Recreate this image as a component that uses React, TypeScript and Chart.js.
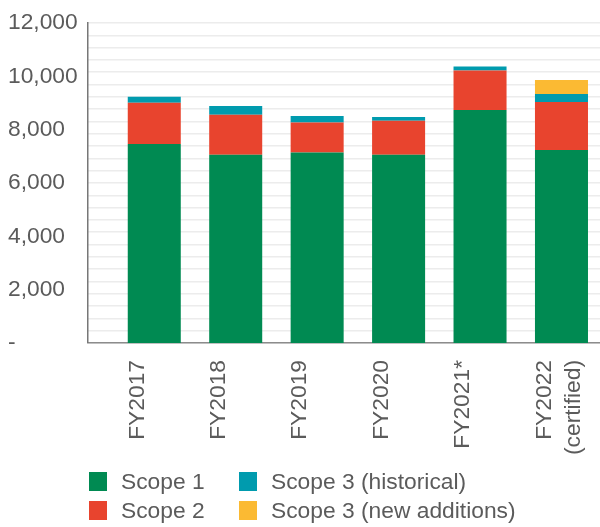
import React, { useEffect, useRef } from 'react';
import { Chart, registerables } from 'chart.js';

Chart.register(...registerables);

const categories: (string | string[])[] = [
  'FY2017',
  'FY2018',
  'FY2019',
  'FY2020',
  'FY2021*',
  ['FY2022', '(certified)'],
];
const scope1 = [7460, 7060, 7140, 7060, 8740, 7240];
const scope2 = [1550, 1500, 1125, 1275, 1475, 1800];
const scope3Historical = [225, 325, 250, 140, 150, 300];
const scope3New = [0, 0, 0, 0, 0, 525];
const yMax = 12000;
const yStep = 2000;

const seriesNames = ['Scope 1', 'Scope 2', 'Scope 3 (historical)', 'Scope 3 (new additions)'];
const seriesColors = ['#008a52', '#e8442e', '#009bae', '#fbba33'];

const FONT = '"Liberation Sans", Arial, Helvetica, sans-serif';
const TEXT = '#5b5b5b';
const FS = 22.8;

export default function App() {
  const ref = useRef<HTMLCanvasElement | null>(null);

  useEffect(() => {
    document.body.style.margin = '0';
    const canvas = ref.current;
    if (!canvas) return;
    const toPoints = (arr: number[]) => arr.map((y, i) => ({ x: i, y }));
    const allSeries = [scope1, scope2, scope3Historical, scope3New];
    const chart = new Chart(canvas, {
      type: 'bar',
      data: {
        datasets: allSeries.map((s, k) => ({
          label: seriesNames[k],
          data: toPoints(s),
          backgroundColor: seriesColors[k],
          borderWidth: 0,
          barPercentage: 0.651,
          categoryPercentage: 1,
        })),
      },
      options: {
        responsive: false,
        animation: false,
        layout: { padding: { left: 8, top: 23, right: 0, bottom: 4 } },
        plugins: { legend: { display: false }, tooltip: { enabled: false } },
        scales: {
          x: {
            type: 'linear',
            offset: false,
            min: -0.817,
            max: 5.473,
            stacked: true,
            grid: { display: false, drawTicks: false, offset: false },
            border: { display: true, color: '#8c8c8c', width: 1.5 },
            afterBuildTicks: (s: any) => {
              s.ticks = categories.map((_, i) => ({ value: i }));
            },
            afterFit: (s: any) => {
              s.paddingLeft = 0;
              s.paddingRight = 0;
            },
            ticks: {
              stepSize: 1,
              includeBounds: false,
              autoSkip: false,
              minRotation: 90,
              maxRotation: 90,
              padding: 17,
              labelOffset: -17,
              color: TEXT,
              font: { family: FONT, size: FS, lineHeight: 1.28 },
              callback: (v: any) => {
                const i = Number(v);
                return Number.isInteger(i) && i >= 0 && i < categories.length ? categories[i] : '';
              },
            },
          },
          y: {
            stacked: true,
            min: 0,
            max: yMax,
            grid: { display: false, drawTicks: false },
            border: { display: true, color: '#777777', width: 1.5 },
            ticks: {
              stepSize: yStep,
              crossAlign: 'far',
              padding: 5,
              color: TEXT,
              font: { family: FONT, size: FS },
              callback: (v: any) => (Number(v) === 0 ? '-' : Number(v).toLocaleString('en-US')),
            },
          },
          yGrid: {
            position: 'right',
            min: 0,
            max: 26,
            grid: { color: '#ececec', lineWidth: 1.5, drawTicks: false },
            border: { display: false },
            ticks: { display: false, stepSize: 1 },
          },
        },
      } as any,
    });
    return () => chart.destroy();
  }, []);

  const legendItem = (k: number) => (
    <div key={k} style={{ display: 'flex', alignItems: 'center', height: 29 }}>
      <span
        style={{
          display: 'inline-block',
          width: 18,
          height: 19,
          background: seriesColors[k],
          marginRight: 14,
        }}
      />
      <span style={{ fontFamily: FONT, fontSize: FS, color: TEXT, lineHeight: '29px' }}>{seriesNames[k]}</span>
    </div>
  );

  return (
    <div style={{ position: 'relative', width: 600, height: 527 }}>
      <canvas ref={ref} width={600} height={476} style={{ display: 'block', position: 'absolute', left: 0, top: 0 }} />
      <div
        style={{
          position: 'absolute',
          left: 89,
          top: 467,
          display: 'grid',
          gridTemplateColumns: '150px auto',
          gridAutoFlow: 'column',
          gridTemplateRows: '29px 29px',
        }}
      >
        {[0, 1, 2, 3].map(legendItem)}
      </div>
    </div>
  );
}
